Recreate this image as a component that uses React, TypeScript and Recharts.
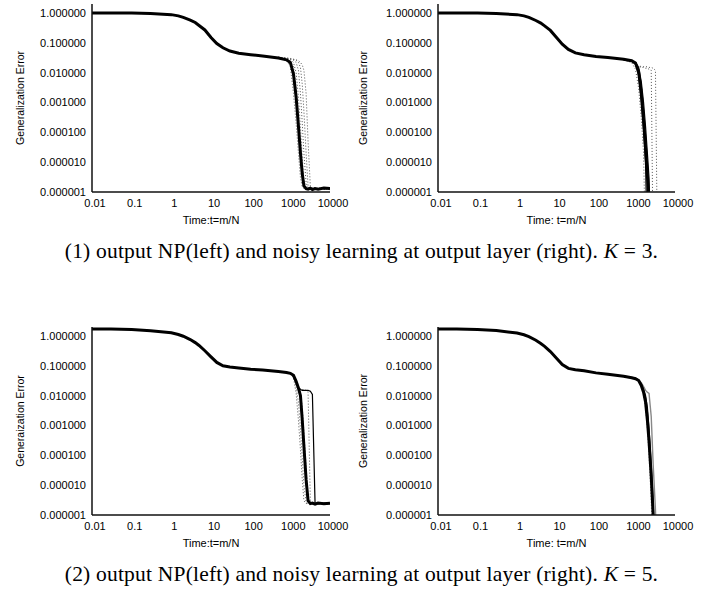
import React from 'react'
import { LineChart, Line, XAxis, YAxis, Label } from 'recharts'

// time grid (t = m/N), split so the runs only need the part after the plateau
const headT = [0.01, 0.03, 0.1, 0.3, 1, 1.5, 2, 3, 4, 5, 7, 10, 14, 20, 30, 50, 100, 200]
const tailT = [500, 800, 1000, 1200, 1400, 1600, 1800, 2000, 2200, 2500, 2800, 3200, 3600, 4200, 5000, 7000, 10000]

const xTicks = [0.01, 0.1, 1, 10, 100, 1000, 10000]
const xTickLabels = ['0.01', '0.1', '1', '10', '100', '1000', '10000']
const yTicks = [1, 0.1, 0.01, 0.001, 0.0001, 0.00001, 0.000001]
const yTickLabels = ['1.000000', '0.100000', '0.010000', '0.001000', '0.000100', '0.000010', '0.000001']

// (1) left: output NP, K = 3
const np3Head = [1.0, 1.0, 0.99, 0.96, 0.88, 0.8, 0.71, 0.58, 0.48, 0.38, 0.27, 0.15, 0.095, 0.068, 0.053, 0.045, 0.04, 0.036]
const np3Main = [0.031, 0.027, 0.022, 0.009, 1.5e-3, 1.6e-4, 2e-5, 4e-6, 1.6e-6, 1.3e-6, 1.25e-6, 1.35e-6, 1.2e-6, 1.3e-6, 1.25e-6, 1.35e-6, 1.3e-6]
const np3RunA = [0.032, 0.029, 0.027, 0.022, 0.01, 1.5e-3, 1.5e-4, 1.5e-5, 2.5e-6, 1.4e-6, 1.3e-6, 1.2e-6, 1.4e-6, 1.3e-6, 1.2e-6, 1.4e-6, 1.3e-6]
const np3RunB = [0.033, 0.03, 0.028, 0.026, 0.022, 0.012, 2e-3, 2e-4, 2e-5, 2e-6, 1.4e-6, 1.3e-6, 1.2e-6, 1.35e-6, 1.3e-6, 1.2e-6, 1.3e-6]
const np3RunC = [0.03, 0.026, 0.016, 2e-3, 2e-4, 2e-5, 3e-6, 1.5e-6, 1.3e-6, 1.2e-6, 1.3e-6, 1.25e-6, 1.3e-6, 1.2e-6, 1.3e-6, 1.25e-6, 1.2e-6]
const np3RunD = [0.031, 0.028, 0.024, 0.016, 3e-3, 4e-4, 4e-5, 5e-6, 1.8e-6, 1.3e-6, 1.4e-6, 1.3e-6, 1.2e-6, 1.3e-6, 1.4e-6, 1.3e-6, 1.2e-6]
const np3RunE = [0.033, 0.031, 0.029, 0.028, 0.026, 0.022, 0.015, 4e-3, 5e-4, 2e-5, 1.6e-6, 1.3e-6, 1.4e-6, 1.2e-6, 1.3e-6, 1.4e-6, 1.25e-6]
const np3RunF = [0.033, 0.031, 0.03, 0.028, 0.027, 0.025, 0.022, 0.018, 0.012, 2e-3, 5e-5, 1.5e-6, 1.3e-6, 1.4e-6, 1.2e-6, 1.3e-6, 1.35e-6]

// (1) right: noisy learning at output layer, K = 3
const out3Head = [1.0, 1.0, 0.99, 0.96, 0.88, 0.8, 0.71, 0.56, 0.46, 0.37, 0.26, 0.15, 0.09, 0.06, 0.046, 0.04, 0.035, 0.032]
const out3Main = [0.028, 0.025, 0.021, 0.011, 2e-3, 2.5e-4, 3e-5, 3.5e-6, 4e-7, 1e-8, null, null, null, null, null, null, null]
const out3RunA = [0.027, 0.024, 0.019, 8e-3, 1.2e-3, 1.2e-4, 8e-6, 1e-8, null, null, null, null, null, null, null, null, null]
const out3RunB = [0.028, 0.025, 0.022, 0.015, 5e-3, 1e-3, 1.5e-4, 2e-5, 3e-6, 1e-8, null, null, null, null, null, null, null]
const out3RunC = [0.026, 0.022, 0.013, 3e-3, 3e-4, 2e-5, 1e-8, null, null, null, null, null, null, null, null, null, null]
const out3RunD = [0.027, 0.024, 0.02, 0.017, 0.016, 0.016, 0.016, 0.0155, 0.015, 0.015, 0.014, 0.012, 1e-8, null, null, null, null]
const out3RunE = [0.027, 0.024, 0.02, 0.012, 4e-3, 6e-4, 6e-5, 6e-6, 5e-7, 1e-8, null, null, null, null, null, null, null]
const out3RunF = [0.027, 0.024, 0.02, 0.016, 0.015, 0.015, 0.014, 0.014, 0.013, 0.012, 1e-8, null, null, null, null, null, null]

// (2) left: output NP, K = 5
const np5Head = [1.72, 1.7, 1.65, 1.5, 1.28, 1.12, 0.98, 0.76, 0.6, 0.48, 0.32, 0.2, 0.13, 0.1, 0.092, 0.085, 0.077, 0.072]
const np5Main = [0.064, 0.06, 0.056, 0.048, 0.03, 0.018, 0.01, 1.5e-3, 2e-4, 1.5e-5, 3e-6, 2.4e-6, 2.5e-6, 2.3e-6, 2.5e-6, 2.4e-6, 2.5e-6]
const np5RunA = [0.064, 0.06, 0.056, 0.045, 0.028, 0.018, 0.016, 0.015, 0.015, 0.015, 0.015, 0.014, 0.011, 2.5e-6, 2.4e-6, 2.5e-6, 2.4e-6]
const np5RunB = [0.064, 0.06, 0.056, 0.046, 0.03, 0.02, 0.017, 0.016, 0.016, 0.015, 0.013, 2.6e-6, 2.4e-6, 2.5e-6, 2.3e-6, 2.5e-6, 2.4e-6]
const np5RunC = [0.063, 0.058, 0.053, 0.04, 0.012, 1.5e-3, 1.5e-4, 1.5e-5, 3e-6, 2.4e-6, 2.5e-6, 2.3e-6, 2.4e-6, 2.5e-6, 2.3e-6, 2.4e-6, 2.5e-6]
const np5RunD = [0.064, 0.059, 0.055, 0.045, 0.02, 6e-3, 8e-4, 8e-5, 1e-5, 2.6e-6, 2.4e-6, 2.5e-6, 2.3e-6, 2.4e-6, 2.5e-6, 2.3e-6, 2.4e-6]
const np5RunE = [0.065, 0.061, 0.057, 0.05, 0.035, 0.02, 0.012, 4e-3, 6e-4, 4e-5, 2.6e-6, 2.4e-6, 2.5e-6, 2.4e-6, 2.3e-6, 2.5e-6, 2.4e-6]

// (2) right: noisy learning at output layer, K = 5
const out5Head = [1.72, 1.7, 1.66, 1.52, 1.25, 1.1, 0.95, 0.72, 0.56, 0.45, 0.3, 0.18, 0.11, 0.082, 0.074, 0.068, 0.058, 0.052]
const out5Main = [0.045, 0.04, 0.037, 0.032, 0.022, 0.013, 6e-3, 1.5e-3, 3e-4, 2e-5, 1e-6, 1e-8, null, null, null, null, null]
const out5RunA = [0.045, 0.04, 0.038, 0.033, 0.025, 0.016, 0.01, 4e-3, 8e-4, 5e-5, 3e-6, 1e-8, null, null, null, null, null]
const out5RunB = [0.046, 0.041, 0.038, 0.034, 0.027, 0.02, 0.015, 0.013, 0.012, 2e-3, 5e-5, 1.5e-6, 1e-8, null, null, null, null]
const out5RunC = [0.045, 0.04, 0.037, 0.031, 0.02, 0.011, 4e-3, 8e-4, 1e-4, 3e-6, 1e-8, null, null, null, null, null, null]

const lineStyles: Record<string, any> = {
  thick: { stroke: '#000', strokeWidth: 3 },
  solid: { stroke: '#000', strokeWidth: 1.2 },
  gray: { stroke: '#888', strokeWidth: 1.4 },
  dot: { stroke: '#555', strokeWidth: 1, strokeDasharray: '1 2' },
}

const font = 'Liberation Sans, Arial, sans-serif'

function minorTicks(lo: number, hi: number) {
  const out: number[] = []
  for (let e = lo; e < hi; e++) for (let m = 2; m <= 9; m++) out.push(m * Math.pow(10, e))
  return out
}
const xMinor = minorTicks(-2, 4)
const yMinor = minorTicks(-6, 0)

function buildRows(head: number[], main: (number | null)[], runs: (number | null)[][]) {
  const rows: any[] = headT.map((t, i) => ({ t, main: head[i] }))
  tailT.forEach((t, i) => {
    const row: any = { t, main: main[i] }
    runs.forEach((r, k) => { row['r' + k] = r[i] })
    rows.push(row)
  })
  return rows
}

const xBase = { dataKey: 't', type: 'number' as const, scale: 'log' as const, domain: [0.01, 10000], allowDataOverflow: true }
const yBase = { type: 'number' as const, scale: 'log' as const, domain: [0.000001, 2], allowDataOverflow: true }
const frameLine = { stroke: '#111', strokeWidth: 1.5 }

function frameAxes() {
  // inward gnuplot-style ticks on all four sides
  return [
    <XAxis key="xbM" xAxisId="xbM" {...xBase} ticks={xTicks} mirror tick={false} tickSize={4} axisLine={false} height={0} tickLine={frameLine} />,
    <XAxis key="xbm" xAxisId="xbm" {...xBase} ticks={xMinor} mirror tick={false} tickSize={2} axisLine={false} height={0} tickLine={{ stroke: '#111' }} />,
    <XAxis key="xtM" xAxisId="xtM" {...xBase} orientation="top" ticks={xTicks} mirror tick={false} tickSize={4} axisLine={frameLine} height={0} tickLine={frameLine} />,
    <XAxis key="xtm" xAxisId="xtm" {...xBase} orientation="top" ticks={xMinor} mirror tick={false} tickSize={2} axisLine={false} height={0} tickLine={{ stroke: '#111' }} />,
    <YAxis key="ylM" yAxisId="ylM" {...yBase} ticks={yTicks} mirror tick={false} tickSize={4} axisLine={false} width={0} tickLine={frameLine} />,
    <YAxis key="ylm" yAxisId="ylm" {...yBase} ticks={yMinor} mirror tick={false} tickSize={2} axisLine={false} width={0} tickLine={{ stroke: '#111' }} />,
    <YAxis key="yrM" yAxisId="yrM" {...yBase} orientation="right" ticks={yTicks} mirror tick={false} tickSize={4} axisLine={frameLine} width={0} tickLine={frameLine} />,
    <YAxis key="yrm" yAxisId="yrm" {...yBase} orientation="right" ticks={yMinor} mirror tick={false} tickSize={2} axisLine={false} width={0} tickLine={{ stroke: '#111' }} />,
  ]
}

function Panel({ left, top, width, head, main, runs, kinds, xTitle, yTitle, yTitleX, right }: any) {
  const rows = buildRows(head, main, runs)
  return (
    <div style={{ position: 'absolute', left, top }}>
      <LineChart width={width} height={232} data={rows} margin={{ top: 4, right, bottom: 0, left: 0 }}>
        {frameAxes()}
        <XAxis
          xAxisId="x"
          {...xBase}
          ticks={xTicks}
          interval={0}
          tickFormatter={(v: number) => xTickLabels[xTicks.indexOf(v)]}
          tickLine={false}
          tickSize={0}
          tickMargin={7}
          axisLine={frameLine}
          height={40}
          tick={{ fontSize: 11, fill: '#000', fontFamily: font, dx: 3 }}
        >
          <Label value={xTitle} position="insideBottom" offset={8} style={{ fontSize: 11, fill: '#000', fontFamily: font }} />
        </XAxis>
        <YAxis
          yAxisId="y"
          {...yBase}
          ticks={yTicks}
          interval={0}
          tickFormatter={(v: number) => yTickLabels[yTicks.indexOf(v)]}
          tickLine={false}
          tickSize={0}
          tickMargin={6}
          axisLine={frameLine}
          width={92}
          tick={{ fontSize: 11, fill: '#000', fontFamily: font }}
        >
          <Label value={yTitle} angle={-90} position="insideLeft" offset={yTitleX} textAnchor="middle" style={{ fontSize: 10.5, fill: '#000', fontFamily: font, textAnchor: 'middle' }} />
        </YAxis>
        {runs.map((_: any, k: number) => (
          <Line key={k} xAxisId="x" yAxisId="y" dataKey={'r' + k} {...lineStyles[kinds[k]]} dot={false} activeDot={false} isAnimationActive={false} />
        ))}
        <Line xAxisId="x" yAxisId="y" dataKey="main" {...lineStyles.thick} dot={false} activeDot={false} isAnimationActive={false} />
      </LineChart>
    </div>
  )
}

const captionStyle: React.CSSProperties = {
  position: 'absolute',
  left: 0,
  width: 723,
  textAlign: 'center',
  fontFamily: '"Liberation Serif", "Times New Roman", serif',
  fontSize: 21.5,
  letterSpacing: '0.2px',
  lineHeight: '21.5px',
  whiteSpace: 'nowrap',
  color: '#000',
}

export default function App() {
  return (
    <div style={{ position: 'absolute', left: 0, top: 0, width: 723, height: 592, background: '#fff' }}>
      <Panel left={0} top={0} width={360} right={30} head={np3Head} main={np3Main}
        runs={[np3RunA, np3RunB, np3RunC, np3RunD, np3RunE, np3RunF]}
        kinds={['dot', 'dot', 'dot', 'dot', 'dot', 'dot']}
        xTitle="Time:t=m/N" yTitle="Generalization Error" yTitleX={20} />
      <Panel left={346} top={0} width={377} right={48} head={out3Head} main={out3Main}
        runs={[out3RunC, out3RunE, out3RunD, out3RunF, out3RunA, out3RunB]}
        kinds={['dot', 'dot', 'dot', 'dot', 'solid', 'solid']}
        xTitle="Time: t=m/N" yTitle="Generalization Error" yTitleX={17} />
      <Panel left={0} top={323} width={360} right={30} head={np5Head} main={np5Main}
        runs={[np5RunC, np5RunD, np5RunE, np5RunB, np5RunA]}
        kinds={['dot', 'dot', 'dot', 'dot', 'solid']}
        xTitle="Time:t=m/N" yTitle="Generaization Error" yTitleX={20} />
      <Panel left={346} top={323} width={377} right={48} head={out5Head} main={out5Main}
        runs={[out5RunC, out5RunB, out5RunA]}
        kinds={['dot', 'gray', 'solid']}
        xTitle="Time: t=m/N" yTitle="Generalization Error" yTitleX={17} />
      <div style={{ ...captionStyle, top: 241 }}>
        (1) output NP(left) and noisy learning at output layer (right). <i>K</i> = 3.
      </div>
      <div style={{ ...captionStyle, top: 564 }}>
        (2) output NP(left) and noisy learning at output layer (right). <i>K</i> = 5.
      </div>
    </div>
  )
}
